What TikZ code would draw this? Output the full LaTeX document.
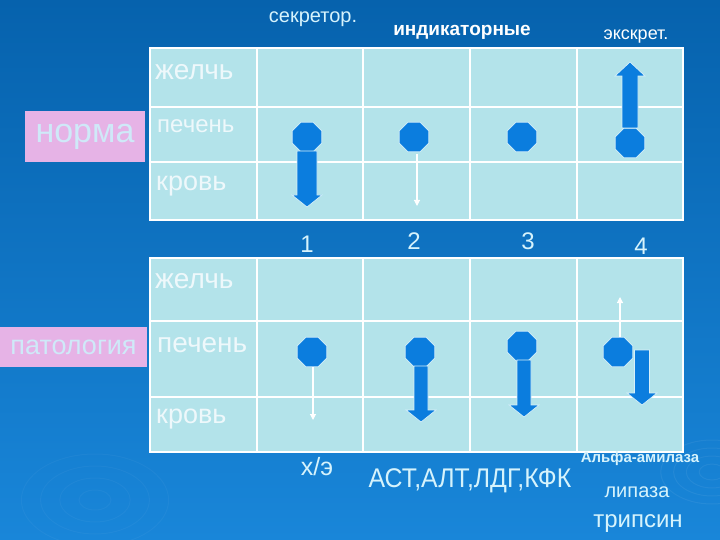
\documentclass[tikz,border=0pt]{standalone}
\usepackage{fontspec}
\setmainfont{Liberation Sans}
\usetikzlibrary{shapes.geometric,arrows.meta}
\definecolor{bgtop}{HTML}{0662AD}
\definecolor{bgbot}{HTML}{1986D9}
\definecolor{tfill}{HTML}{B3E3EA}
\definecolor{octc}{HTML}{0B7DDE}
\definecolor{octl}{HTML}{D6F0FA}
\definecolor{pinkc}{HTML}{E6B3E6}
\definecolor{normtxt}{HTML}{CFE9F8}
\definecolor{lighttxt}{HTML}{D6F3FC}
\definecolor{celltxt}{HTML}{EEF8FB}
\newcommand{\FatArrowV}[5]{% x, y start, y head base, y tip, half shaft
  \filldraw[fat] (#1-#5,#2) -- (#1+#5,#2) -- (#1+#5,#3) -- (#1+15,#3) -- (#1,#4) -- (#1-15,#3) -- (#1-#5,#3) -- cycle;}
\begin{document}
\begin{tikzpicture}[x=1pt,y=-1pt,
  grid/.style={draw=white,line width=1.3pt},
  oct/.style={regular polygon,regular polygon sides=8,minimum size=32pt,inner sep=0pt,fill=octc,draw=octl,line width=0.8pt},
  fat/.style={fill=octc,draw=octl,line width=0.7pt},
  thin/.style={draw=white,line width=1.1pt,-{Triangle[width=6pt,length=6pt]}},
  rowlbl/.style={anchor=west,inner sep=0pt,text=celltxt},
  tag/.style={fill=pinkc,inner sep=0pt,text=normtxt},
  hdr/.style={inner sep=0pt,text=lighttxt},
  num/.style={inner sep=0pt,text=lighttxt,font=\fontsize{24}{28}\selectfont},
  btm/.style={inner sep=0pt,text=lighttxt}]
\shade[top color=bgtop,bottom color=bgbot] (0,0) rectangle (720,540);
\useasboundingbox (0,0) rectangle (720,540);
% faint ripples
\foreach \r in {8,16,24,32}{\draw[white,opacity=0.06,line width=1pt] (712,472) ellipse ({\r*1.6} and \r);}
\foreach \r in {10,22,34,46}{\draw[white,opacity=0.035,line width=1pt] (95,500) ellipse ({\r*1.6} and \r);}
% headers
\node[hdr,font=\fontsize{20}{24}\selectfont] (h1) at (313,19) {секретор.};
\node[hdr,text=white,font=\bfseries\fontsize{19}{24}\selectfont] (h2) at (462,32) {индикаторные};
\node[hdr,text=white,font=\fontsize{18}{22}\selectfont] (h3) at (636,37) {экскрет.};
% top table
\fill[tfill] (150,48) rectangle (683,220);
\draw[grid] (150,48) rectangle (683,220);
\foreach \x in {257,363,470,577}{\draw[grid] (\x,48) -- (\x,220);}
\foreach \y in {107,162}{\draw[grid] (150,\y) -- (683,\y);}
\node[rowlbl,font=\fontsize{28}{32}\selectfont] (a1) at (155,72) {желчь};
\node[rowlbl,font=\fontsize{24}{28}\selectfont] (a2) at (157,126) {печень};
\node[rowlbl,font=\fontsize{27}{30}\selectfont] (a3) at (156,186) {кровь};
\node[tag,minimum width=120pt,minimum height=51pt,font=\fontsize{34}{38}\selectfont] (norm) at (85,136.5) {норма};
% top octagons and arrows
\node[oct] (o1) at (307,137) {};
\node[oct] (o2) at (414,137) {};
\node[oct] (o3) at (522,137) {};
\node[oct] (o4) at (630,143) {};
\FatArrowV{307}{151}{195}{207}{10}
\FatArrowV{630}{128}{76}{62}{8}
\coordinate (t2) at (417,206);
\draw[thin] ([yshift=-2pt]o2.south -| t2) -- (t2);
% numbers
\node[num] (n1) at (307,244) {1};
\node[num] (n2) at (414,241) {2};
\node[num] (n3) at (528,241) {3};
\node[num] (n4) at (641,246) {4};
% bottom table
\fill[tfill] (150,258) rectangle (683,452);
\draw[grid] (150,258) rectangle (683,452);
\foreach \x in {257,363,470,577}{\draw[grid] (\x,258) -- (\x,452);}
\foreach \y in {321,397}{\draw[grid] (150,\y) -- (683,\y);}
\node[rowlbl,font=\fontsize{28}{32}\selectfont] (b1) at (155,281) {желчь};
\node[rowlbl,font=\fontsize{28}{32}\selectfont] (b2) at (157,345) {печень};
\node[rowlbl,font=\fontsize{27}{30}\selectfont] (b3) at (156,419) {кровь};
\node[tag,minimum width=147pt,minimum height=40pt,font=\fontsize{27}{30}\selectfont] (pat) at (73.5,347) {патология};
% bottom octagons and arrows
\node[oct] (p1) at (312,352) {};
\node[oct] (p2) at (420,352) {};
\node[oct] (p3) at (522,346) {};
\node[oct] (p4) at (618,352) {};
\coordinate (q1) at (313,420);
\draw[thin] (p1.south -| q1) -- (q1);
\coordinate (q4) at (620,297);
\draw[thin] (p4.north -| q4) -- (q4);
\FatArrowV{421}{366}{410}{422}{7}
\FatArrowV{524}{360}{405}{417}{7}
\FatArrowV{642}{350}{393}{405}{7.5}
% bottom labels
\node[btm,font=\fontsize{25}{28}\selectfont] (c1) at (317,467) {х/э};
\node[btm,font=\fontsize{27}{30}\selectfont] (c2) at (470,481) {\scalebox{0.92}[1]{АСТ,АЛТ,ЛДГ,КФК}};
\node[btm,font=\bfseries\fontsize{15}{18}\selectfont] (c3) at (640,459) {Альфа-амилаза};
\node[btm,font=\fontsize{20}{24}\selectfont] (c4) at (637,492) {липаза};
\node[btm,font=\fontsize{24}{28}\selectfont] (c5) at (638,524) {трипсин};
\end{tikzpicture}
\end{document}
